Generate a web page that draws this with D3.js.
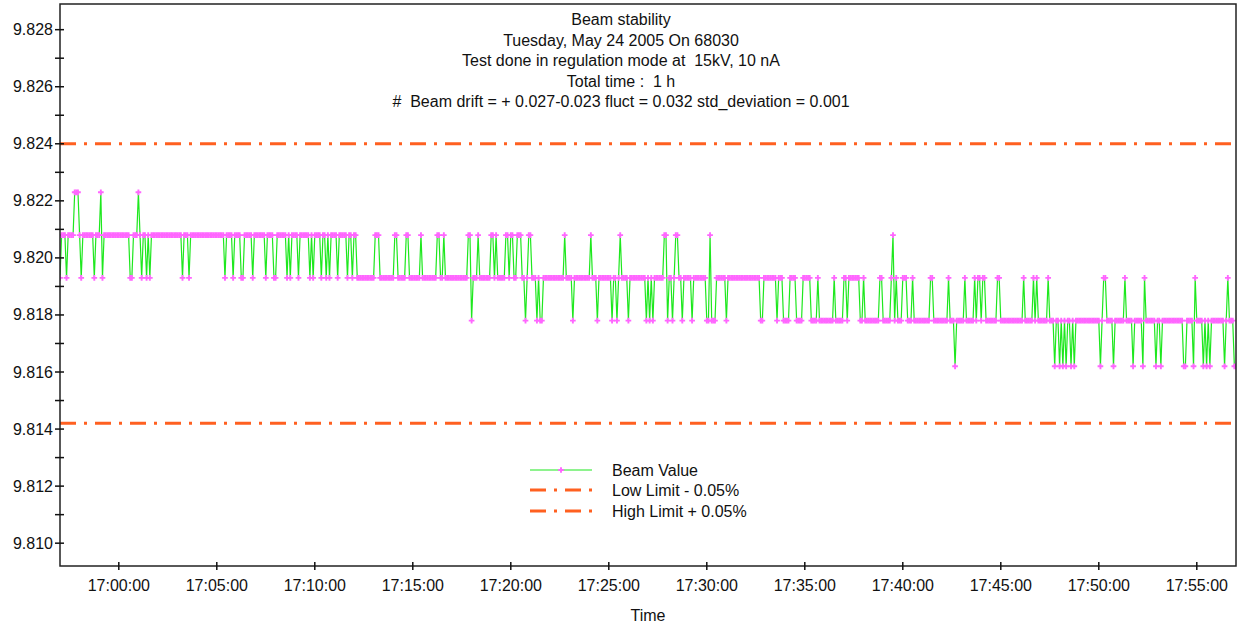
<!DOCTYPE html>
<html>
<head>
<meta charset="utf-8">
<script src="https://cdn.jsdelivr.net/npm/d3@7"></script>
<style>
  body { margin: 0; background: #fff; }
  svg text { font-family: "Liberation Sans", Arial, sans-serif; fill: #111; }
</style>
</head>
<body>
<svg id="chart" width="1240" height="625"></svg>
<script>
// beam readings, one every 5 s starting at 16:57:00
const startTime = "16:57:00";
const sampleSeconds = 5;
const beamValues = [
  // 16:57 - 17:04
  9.8193, 9.8208, 9.8208, 9.8208, 9.8193, 9.8208, 9.8208, 9.8208, 9.8208, 9.8223,
  9.8223, 9.8223, 9.8208, 9.8193, 9.8208, 9.8208, 9.8208, 9.8208, 9.8208, 9.8208,
  9.8208, 9.8193, 9.8208, 9.8208, 9.8208, 9.8223, 9.8193, 9.8208,
  9.8208, 9.8208, 9.8208, 9.8208, 9.8208, 9.8208, 9.8208, 9.8208, 9.8208, 9.8208, 9.8208, 9.8208, 9.8208,
  9.8208, 9.8208, 9.8193, 9.8193, 9.8208, 9.8208, 9.8208, 9.8223, 9.8208, 9.8193,
  9.8208, 9.8208, 9.8193, 9.8208, 9.8193, 9.8208,
  9.8208, 9.8208, 9.8208, 9.8208, 9.8208, 9.8208, 9.8208, 9.8208, 9.8208, 9.8208,
  9.8208, 9.8208, 9.8208, 9.8208, 9.8208, 9.8208, 9.8208,
  9.8208, 9.8193, 9.8208, 9.8208, 9.8208, 9.8193, 9.8208,
  9.8208, 9.8208, 9.8208, 9.8208, 9.8208, 9.8208, 9.8208, 9.8208,
  // 17:04 - 17:12
  9.8208, 9.8208, 9.8208, 9.8208, 9.8208, 9.8208, 9.8208, 9.8208, 9.8208, 9.8208, 9.8208, 9.8208,
  9.8193, 9.8208, 9.8208, 9.8208, 9.8208, 9.8193, 9.8208, 9.8208, 9.8208, 9.8208,
  9.8193, 9.8193, 9.8208, 9.8208, 9.8208, 9.8208, 9.8208, 9.8193, 9.8208, 9.8208,
  9.8208, 9.8208, 9.8208, 9.8208, 9.8208, 9.8193, 9.8208, 9.8208, 9.8208, 9.8208,
  9.8193, 9.8193, 9.8208, 9.8208, 9.8208, 9.8208, 9.8208, 9.8208, 9.8193, 9.8208,
  9.8193, 9.8208, 9.8208, 9.8208, 9.8208, 9.8193, 9.8208, 9.8208, 9.8208, 9.8208,
  9.8208, 9.8208, 9.8193, 9.8208, 9.8193, 9.8208, 9.8208, 9.8208, 9.8208, 9.8193,
  9.8208, 9.8208, 9.8193, 9.8208, 9.8193, 9.8208, 9.8208, 9.8208, 9.8208, 9.8193,
  9.8208, 9.8208, 9.8208, 9.8208, 9.8208, 9.8193, 9.8208,
  // 17:12 - 17:19
  9.8208, 9.8193, 9.8208, 9.8208, 9.8193,
  9.8193, 9.8193, 9.8193, 9.8193, 9.8193, 9.8193, 9.8193, 9.8193, 9.8193, 9.8193,
  9.8208, 9.8208, 9.8208, 9.8193,
  9.8193, 9.8193, 9.8193, 9.8193, 9.8193, 9.8193, 9.8193, 9.8193,
  9.8208, 9.8208,
  9.8193, 9.8193, 9.8193, 9.8193, 9.8193,
  9.8208, 9.8208,
  9.8193, 9.8193, 9.8193, 9.8193, 9.8193, 9.8193, 9.8193,
  9.8208,
  9.8193, 9.8193, 9.8193, 9.8193, 9.8193, 9.8193, 9.8193, 9.8193, 9.8193,
  9.8208, 9.8208, 9.8193, 9.8193, 9.8208,
  9.8193, 9.8193, 9.8193, 9.8193, 9.8193, 9.8193, 9.8193, 9.8193, 9.8193, 9.8193, 9.8193, 9.8193, 9.8193, 9.8193,
  9.8208, 9.8208, 9.8178, 9.8193, 9.8193, 9.8193, 9.8208,
  9.8193, 9.8193, 9.8193, 9.8193, 9.8193, 9.8193, 9.8193,
  9.8208, 9.8208, 9.8193,
  // 17:19 - 17:27
  9.8208, 9.8193, 9.8193, 9.8193, 9.8193, 9.8193, 9.8208, 9.8208, 9.8193, 9.8208,
  9.8208, 9.8193, 9.8193, 9.8208, 9.8208, 9.8208, 9.8193, 9.8193, 9.8178, 9.8193,
  9.8208, 9.8208, 9.8193, 9.8193, 9.8193, 9.8178, 9.8193, 9.8178, 9.8178, 9.8193,
  9.8193, 9.8193, 9.8193, 9.8193, 9.8193, 9.8193, 9.8193, 9.8193, 9.8193, 9.8193, 9.8193,
  9.8193, 9.8208, 9.8193, 9.8193, 9.8193, 9.8193, 9.8178, 9.8193, 9.8193, 9.8193,
  9.8193, 9.8193, 9.8193, 9.8193, 9.8193, 9.8193,
  9.8193, 9.8208, 9.8193, 9.8193, 9.8193, 9.8178, 9.8193,
  9.8193, 9.8193, 9.8193, 9.8193, 9.8193, 9.8193,
  9.8193, 9.8178, 9.8193, 9.8193, 9.8178, 9.8193, 9.8208, 9.8193, 9.8193, 9.8193,
  9.8193, 9.8178, 9.8193,
  9.8193, 9.8193, 9.8193, 9.8193, 9.8193, 9.8193,
  // 17:27 - 17:34
  9.8193, 9.8193, 9.8193, 9.8178, 9.8193, 9.8178, 9.8193, 9.8178, 9.8193, 9.8193,
  9.8193, 9.8193, 9.8193, 9.8193, 9.8208, 9.8208, 9.8178, 9.8193, 9.8193, 9.8178,
  9.8193, 9.8208, 9.8208, 9.8193, 9.8193, 9.8178, 9.8193, 9.8193, 9.8193, 9.8193,
  9.8193, 9.8178, 9.8193,
  9.8193, 9.8193, 9.8193, 9.8193, 9.8193, 9.8193,
  9.8193, 9.8178, 9.8178, 9.8208, 9.8178, 9.8178, 9.8178, 9.8193,
  9.8193, 9.8193, 9.8193, 9.8193,
  9.8193, 9.8178, 9.8193, 9.8193,
  9.8193, 9.8193, 9.8193, 9.8193, 9.8193, 9.8193, 9.8193, 9.8193, 9.8193, 9.8193,
  9.8193, 9.8193, 9.8193, 9.8193, 9.8193, 9.8193, 9.8193,
  9.8193, 9.8178, 9.8178, 9.8193,
  9.8193, 9.8193, 9.8193, 9.8193, 9.8193, 9.8193,
  9.8193, 9.8178, 9.8193, 9.8193, 9.8193, 9.8178, 9.8178,
  // 17:34 - 17:42
  9.8178, 9.8178, 9.8193, 9.8193, 9.8193, 9.8193, 9.8178, 9.8178, 9.8178, 9.8178,
  9.8193, 9.8193, 9.8193, 9.8193, 9.8193, 9.8178, 9.8178, 9.8178, 9.8178, 9.8193,
  9.8178, 9.8178, 9.8178, 9.8178, 9.8178, 9.8178, 9.8178, 9.8178, 9.8178,
  9.8193, 9.8178, 9.8178, 9.8178, 9.8178, 9.8178, 9.8193, 9.8193, 9.8178, 9.8193,
  9.8193, 9.8193, 9.8193, 9.8193, 9.8193, 9.8193, 9.8178, 9.8178, 9.8193, 9.8178,
  9.8178, 9.8178, 9.8178, 9.8178, 9.8178, 9.8178, 9.8178, 9.8178, 9.8193, 9.8193,
  9.8178, 9.8178, 9.8178, 9.8178, 9.8178, 9.8193, 9.8208, 9.8178, 9.8193, 9.8178,
  9.8178, 9.8178, 9.8193, 9.8193, 9.8193, 9.8178, 9.8178, 9.8178, 9.8193, 9.8178,
  9.8178, 9.8178, 9.8178, 9.8178, 9.8178, 9.8178, 9.8178, 9.8178, 9.8178, 9.8193,
  // 17:42 - 17:49
  9.8193, 9.8178,
  9.8178, 9.8178, 9.8178, 9.8178, 9.8178, 9.8178, 9.8178, 9.8178,
  9.8193, 9.8178, 9.8178, 9.8178, 9.8162, 9.8178,
  9.8178, 9.8178, 9.8178, 9.8178,
  9.8193, 9.8178,
  9.8178, 9.8178, 9.8178, 9.8178,
  9.8193, 9.8178, 9.8193, 9.8193, 9.8178, 9.8193, 9.8193, 9.8178,
  9.8178, 9.8178, 9.8178, 9.8178, 9.8178, 9.8178,
  9.8193, 9.8193, 9.8178,
  9.8178, 9.8178, 9.8178, 9.8178, 9.8178, 9.8178, 9.8178, 9.8178, 9.8178, 9.8178, 9.8178, 9.8178, 9.8178,
  9.8193, 9.8178,
  9.8178, 9.8178, 9.8178, 9.8178,
  9.8193, 9.8178, 9.8193, 9.8178,
  9.8178, 9.8178, 9.8178, 9.8178, 9.8178,
  9.8193, 9.8178, 9.8178, 9.8178, 9.8162, 9.8178, 9.8178, 9.8162, 9.8178, 9.8162,
  9.8178, 9.8162, 9.8178, 9.8178, 9.8162, 9.8178, 9.8162, 9.8178,
  // 17:49 - 17:57
  9.8178,
  9.8178, 9.8178, 9.8178, 9.8178, 9.8178, 9.8178, 9.8178, 9.8178, 9.8178, 9.8178, 9.8178, 9.8178,
  9.8178, 9.8162, 9.8178, 9.8193, 9.8193, 9.8178, 9.8178, 9.8178,
  9.8178, 9.8162, 9.8178,
  9.8178, 9.8178, 9.8178, 9.8178,
  9.8178, 9.8193, 9.8178,
  9.8178, 9.8178, 9.8178,
  9.8162, 9.8178,
  9.8178, 9.8178, 9.8178, 9.8178,
  9.8162, 9.8193, 9.8178,
  9.8178, 9.8178, 9.8178, 9.8178,
  9.8178, 9.8162, 9.8178, 9.8178, 9.8162, 9.8178,
  9.8178, 9.8178, 9.8178, 9.8178, 9.8178, 9.8178, 9.8178, 9.8178, 9.8178, 9.8178, 9.8178,
  9.8178, 9.8162, 9.8162, 9.8178, 9.8178, 9.8178, 9.8178, 9.8162, 9.8193, 9.8178,
  9.8178, 9.8178, 9.8178, 9.8162, 9.8178, 9.8162, 9.8178, 9.8162, 9.8178,
  9.8178, 9.8178, 9.8178, 9.8178, 9.8178, 9.8178, 9.8178,
  9.8162, 9.8178, 9.8193, 9.8178, 9.8178, 9.8178, 9.8162, 9.8162
];

const lowLimit = 9.8142;
const highLimit = 9.8240;
const yDomain = [9.8092, 9.8289];
const yLabelTicks = [9.810, 9.812, 9.814, 9.816, 9.818, 9.820, 9.822, 9.824, 9.826, 9.828];
const yMinorTicks = [9.811, 9.813, 9.815, 9.817, 9.819, 9.821, 9.823, 9.825, 9.827];
const xDomain = ["16:57:00", "17:57:00"];
const xTickLabels = ["17:00:00", "17:05:00", "17:10:00", "17:15:00", "17:20:00", "17:25:00",
  "17:30:00", "17:35:00", "17:40:00", "17:45:00", "17:50:00", "17:55:00"];
const titleLines = [
  "Beam stability",
  "Tuesday, May 24 2005 On 68030",
  "Test done in regulation mode at  15kV, 10 nA",
  "Total time :  1 h",
  "#  Beam drift = + 0.027-0.023 fluct = 0.032 std_deviation = 0.001"
];
const legendLabels = ["Beam Value", "Low Limit - 0.05%", "High Limit + 0.05%"];

const parseTime = d3.timeParse("%Y-%m-%d %H:%M:%S");
const toDate = (s) => parseTime("2005-05-24 " + s);

const lineColor = "#1ee81e";
const markColor = "#ff66ff";
const limitColor = "#ff6020";
const limitDash = "16,8,3,8";
const fontSize = "16px";

const svg = d3.select("#chart");
const plotL = 60, plotR = 1236, plotT = 4, plotB = 566;

const x = d3.scaleTime().domain(xDomain.map(toDate)).range([plotL, plotR]);
const y = d3.scaleLinear().domain(yDomain).range([plotB, plotT]);

const t0 = toDate(startTime);
const beamData = beamValues.map((v, i) => ({ t: new Date(+t0 + i * sampleSeconds * 1000), v }));

svg.append("rect").attr("width", 1240).attr("height", 625).attr("fill", "#fff");

svg.append("defs").append("clipPath").attr("id", "plotclip")
  .append("rect").attr("x", plotL).attr("y", plotT).attr("width", plotR - plotL).attr("height", plotB - plotT);

// title
svg.append("g")
  .selectAll("text")
  .data(titleLines)
  .enter()
  .append("text")
  .attr("x", 621)
  .attr("y", (d, i) => 25 + i * 20.5)
  .attr("text-anchor", "middle")
  .style("font-size", fontSize)
  .style("white-space", "pre")
  .text((d) => d);

// limit lines
const plot = svg.append("g").attr("clip-path", "url(#plotclip)");
[lowLimit, highLimit].forEach((lim) => {
  plot.append("line")
    .attr("x1", plotL).attr("x2", plotR)
    .attr("y1", y(lim)).attr("y2", y(lim))
    .attr("stroke", limitColor)
    .attr("stroke-width", 3)
    .attr("stroke-dasharray", limitDash);
});

// beam line + markers
const line = d3.line().x((d) => x(d.t)).y((d) => y(d.v));
plot.append("path")
  .datum(beamData)
  .attr("d", line)
  .attr("fill", "none")
  .attr("stroke", lineColor)
  .attr("stroke-width", 1.2);

const cross = d3.symbol().type(d3.symbolCross).size(18);
plot.selectAll(".mk")
  .data(beamData)
  .enter()
  .append("path")
  .attr("class", "mk")
  .attr("d", cross)
  .attr("transform", (d) => `translate(${x(d.t)},${y(d.v)})`)
  .attr("fill", markColor);

// frame
svg.append("rect")
  .attr("x", plotL).attr("y", plotT)
  .attr("width", plotR - plotL).attr("height", plotB - plotT)
  .attr("fill", "none")
  .attr("stroke", "#222")
  .attr("stroke-width", 1.5);

// y axis
const yAxis = svg.append("g");
yAxis.selectAll(".maj")
  .data(yLabelTicks)
  .enter()
  .append("line")
  .attr("x1", plotL - 5).attr("x2", plotL + 4)
  .attr("y1", (d) => y(d)).attr("y2", (d) => y(d))
  .attr("stroke", "#111").attr("stroke-width", 1.5);
yAxis.selectAll(".min")
  .data(yMinorTicks)
  .enter()
  .append("line")
  .attr("x1", plotL - 5).attr("x2", plotL + 4)
  .attr("y1", (d) => y(d)).attr("y2", (d) => y(d))
  .attr("stroke", "#111").attr("stroke-width", 1.5);
yAxis.selectAll("text")
  .data(yLabelTicks)
  .enter()
  .append("text")
  .attr("x", plotL - 7)
  .attr("y", (d) => y(d) + 5.5)
  .attr("text-anchor", "end")
  .style("font-size", fontSize)
  .text((d) => d3.format(".3f")(d));

// x axis
const xAxis = svg.append("g");
xAxis.selectAll("line")
  .data(xTickLabels)
  .enter()
  .append("line")
  .attr("x1", (d) => x(toDate(d))).attr("x2", (d) => x(toDate(d)))
  .attr("y1", plotB - 4).attr("y2", plotB + 4)
  .attr("stroke", "#111").attr("stroke-width", 1.5);
xAxis.selectAll("text")
  .data(xTickLabels)
  .enter()
  .append("text")
  .attr("x", (d) => x(toDate(d)))
  .attr("y", plotB + 25)
  .attr("text-anchor", "middle")
  .style("font-size", fontSize)
  .text((d) => d);

svg.append("text")
  .attr("x", (plotL + plotR) / 2)
  .attr("y", 621)
  .attr("text-anchor", "middle")
  .style("font-size", fontSize)
  .text("Time");

// legend
const legend = svg.append("g").attr("transform", "translate(530, 0)");
const rowsY = [470, 490, 511];
legend.append("line")
  .attr("x1", 0).attr("x2", 62).attr("y1", rowsY[0]).attr("y2", rowsY[0])
  .attr("stroke", lineColor).attr("stroke-width", 1.2);
legend.append("path")
  .attr("d", cross)
  .attr("transform", `translate(31,${rowsY[0]})`)
  .attr("fill", markColor);
[1, 2].forEach((k) => {
  legend.append("line")
    .attr("x1", 0).attr("x2", 62).attr("y1", rowsY[k]).attr("y2", rowsY[k])
    .attr("stroke", limitColor).attr("stroke-width", 3)
    .attr("stroke-dasharray", limitDash);
});
legend.selectAll("text")
  .data(legendLabels)
  .enter()
  .append("text")
  .attr("x", 82)
  .attr("y", (d, i) => rowsY[i] + 5.5)
  .style("font-size", fontSize)
  .text((d) => d);
</script>
</body>
</html>
